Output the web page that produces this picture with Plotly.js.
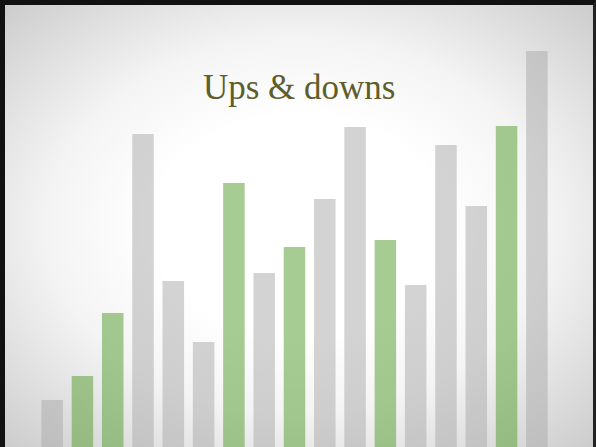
<!DOCTYPE html>
<html>
<head>
<meta charset="utf-8">
<script src="https://cdn.plot.ly/plotly-3.0.1.min.js"></script>
<style>
  html, body { margin: 0; padding: 0; width: 596px; height: 447px; overflow: hidden; background: #ffffff; }
  #frame {
    position: absolute; left: 0; top: 0; width: 596px; height: 447px;
    box-sizing: border-box;
    border-top: 5px solid #111; border-left: 5px solid #111; border-right: 3px solid #222;
    background: radial-gradient(ellipse at 50% 50%, #ffffff 35%, #f4f4f4 60%, #cccccc 100%);
  }
  #chart { position: absolute; left: 0; top: 0; width: 596px; height: 447px; }
</style>
</head>
<body>
<div id="frame"></div>
<div id="chart"></div>
<script>
const categories = ["1","2","3","4","5","6","7","8","9","10","11","12","13","14","15","16","17"];
const grayValues  = [11.75, null, null, 78.25, 41.5, 26.25, null, 43.5, null, 62, 80, null, 40.5, 75.5, 60.25, null, 99];
const greenValues = [null, 17.75, 33.5, null, null, null, 66, null, 50, null, null, 51.75, null, null, null, 80.25, null];
const titleText = "Ups & downs";

const traces = [
  { type: "bar", x: categories, y: grayValues, marker: { color: "rgba(170,170,170,0.52)" }, hoverinfo: "none", showlegend: false },
  { type: "bar", x: categories, y: greenValues, marker: { color: "rgba(92,160,58,0.55)" }, hoverinfo: "none", showlegend: false }
];

const layout = {
  width: 596, height: 447,
  margin: { l: 37, r: 44, t: 47, b: 0, pad: 0 },
  paper_bgcolor: "rgba(0,0,0,0)",
  plot_bgcolor: "rgba(0,0,0,0)",
  barmode: "overlay",
  bargap: 0.29,
  title: {
    text: titleText,
    font: { family: "Liberation Serif, DejaVu Serif, serif", size: 35, color: "#5e5d2b" },
    x: 0.502, xref: "container", xanchor: "center",
    y: 0.805, yref: "container", yanchor: "middle"
  },
  xaxis: { type: "category", range: [-0.5, 16.5], showticklabels: false, showgrid: false, zeroline: false, showline: false, ticks: "" },
  yaxis: { range: [0, 100], showticklabels: false, showgrid: false, zeroline: false, showline: false, ticks: "" },
  showlegend: false
};

Plotly.newPlot("chart", traces, layout, { staticPlot: true, displayModeBar: false });
</script>
</body>
</html>
